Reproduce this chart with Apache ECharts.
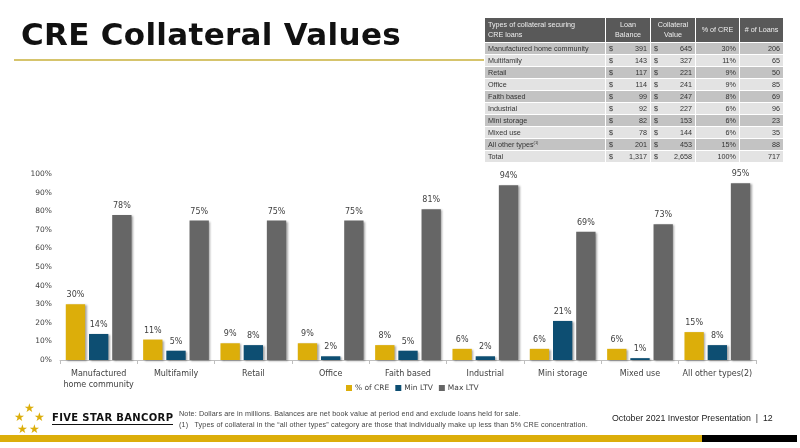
<!DOCTYPE html>
<html>
<head>
<meta charset="utf-8">
<script src="https://cdn.jsdelivr.net/npm/echarts@6/dist/echarts.min.js"></script>
<style>
	html, body { margin: 0; padding: 0; background: #fff; }
	#page { position: relative; width: 800px; height: 448px; overflow: hidden; }
	#main { position: absolute; left: 0; top: 0; width: 800px; height: 448px; }
	.title { position: absolute; left: 21px; top: 16px; font-family: "DejaVu Sans"; font-weight: bold; font-size: 31px; color: #111; letter-spacing: 0.3px; }
	.titleLine { position: absolute; left: 14px; top: 59px; width: 470px; height: 2px; background: #d6c46c; }
	#tbl { position: absolute; left: 484px; top: 17px; border-collapse: collapse; border: 1px solid #111; font-family: "Liberation Sans"; font-size: 7.2px; color: #333; table-layout: fixed; }
	#tbl td, #tbl th { border: 1px solid #fff; padding: 0 3px; height: 11px; line-height: 11px; white-space: nowrap; }
	#tbl th { background: #595959; color: #eee; font-weight: normal; height: 24px; line-height: 10px; text-align: center; }
	#tbl th.first { text-align: left; }
	#tbl tr.dark td { background: #c3c3c3; }
	#tbl tr.light td { background: #e3e3e3; }
	#tbl td.num { text-align: right; }
	#tbl td.num span { float: left; }
	#tbl sup { font-size: 4px; line-height: 0; }
	.stars { position: absolute; color: #dcae0a; font-size: 12px; line-height: 12px; }
	.brand { position: absolute; left: 52px; top: 412px; font-family: "DejaVu Sans"; font-weight: bold; font-size: 10px; letter-spacing: 0.35px; color: #111; border-bottom: 1.5px solid #111; padding-bottom: 1px; }
	.note { position: absolute; left: 179px; font-family: "Liberation Sans"; font-size: 7.2px; letter-spacing: 0.12px; color: #444; white-space: nowrap; }
	.pres { position: absolute; left: 612px; top: 413px; font-family: "Liberation Sans"; font-size: 8.8px; color: #222; white-space: nowrap; }
	.barGold { position: absolute; left: 0; top: 435px; width: 702px; height: 7px; background: #dcae0a; }
	.barBlack { position: absolute; left: 702px; top: 435px; width: 95px; height: 7px; background: #000; }
</style>
</head>
<body>
<div id="page">
	<div id="main"></div>
	<div class="title">CRE Collateral Values</div>
	<div class="titleLine"></div>
	<table id="tbl"></table>

	<div class="stars" style="left:24px;top:402px;">★</div>
	<div class="stars" style="left:14px;top:411px;">★</div>
	<div class="stars" style="left:34px;top:411px;">★</div>
	<div class="stars" style="left:17px;top:423px;">★</div>
	<div class="stars" style="left:29px;top:423px;">★</div>
	<div class="brand">FIVE STAR BANCORP</div>
	<div class="note" style="top:409px;">Note: Dollars are in millions. Balances are net book value at period end and exclude loans held for sale.</div>
	<div class="note" style="top:420px;">(1)&nbsp;&nbsp;&nbsp;Types of collateral in the “all other types” category are those that individually make up less than 5% CRE concentration.</div>
	<div class="pres">October 2021 Investor Presentation &nbsp;|&nbsp; 12</div>
	<div class="barGold"></div>
	<div class="barBlack"></div>
</div>
<script>
	// 图表数据
	var categories = ['Manufactured\nhome community', 'Multifamily', 'Retail', 'Office', 'Faith based', 'Industrial', 'Mini storage', 'Mixed use', 'All other types(2)'];
	var pctCre = [30, 11, 9, 9, 8, 6, 6, 6, 15];
	var minLtv = [14, 5, 8, 2, 5, 2, 21, 1, 8];
	var maxLtv = [78, 75, 75, 75, 81, 94, 69, 73, 95];
	var yTicks = [0, 10, 20, 30, 40, 50, 60, 70, 80, 90, 100];

	// 表格数据
	var tblTypes = ['Manufactured home community', 'Multifamily', 'Retail', 'Office', 'Faith based', 'Industrial', 'Mini storage', 'Mixed use', 'All other types<sup>(1)</sup>', 'Total'];
	var tblLoan = ['391', '143', '117', '114', '99', '92', '82', '78', '201', '1,317'];
	var tblCollateral = ['645', '327', '221', '241', '247', '227', '153', '144', '453', '2,658'];
	var tblPct = ['30%', '11%', '9%', '9%', '8%', '6%', '6%', '6%', '15%', '100%'];
	var tblCount = ['206', '65', '50', '85', '69', '96', '23', '35', '88', '717'];

	var html = '<colgroup><col style="width:121px"><col style="width:45px"><col style="width:45px"><col style="width:44px"><col style="width:44px"></colgroup>';
	html += '<tr><th class="first">Types of collateral securing<br>CRE loans</th><th>Loan<br>Balance</th><th>Collateral<br>Value</th><th>% of CRE</th><th># of Loans</th></tr>';
	for(var i = 0; i < tblTypes.length; i++) {
		html += '<tr class="' + (i % 2 == 0 ? 'dark' : 'light') + '">' +
			'<td>' + tblTypes[i] + '</td>' +
			'<td class="num"><span>$</span>' + tblLoan[i] + '</td>' +
			'<td class="num"><span>$</span>' + tblCollateral[i] + '</td>' +
			'<td class="num">' + tblPct[i] + '</td>' +
			'<td class="num">' + tblCount[i] + '</td></tr>';
	}
	document.getElementById('tbl').innerHTML = html;

	var font = 'DejaVu Sans';
	var labelStyle = {
		show: true,
		position: 'top',
		distance: 5,
		formatter: '{c}%',
		fontFamily: font,
		fontSize: 8,
		color: '#404040'
	};
	var shadow = {
		shadowColor: 'rgba(0,0,0,0.35)',
		shadowBlur: 2,
		shadowOffsetX: 1.5,
		shadowOffsetY: 1
	};

	var myChart = echarts.init(document.getElementById('main'));
	var option = {
		animation: false,
		grid: {
			left: 60,
			right: 44,
			top: 174,
			bottom: 88
		},
		legend: {
			data: ['% of CRE', 'Min LTV', 'Max LTV'],
			left: 341,
			top: 379,
			icon: 'rect',
			itemWidth: 6,
			itemHeight: 6,
			itemGap: 6,
			textStyle: {
				fontFamily: font,
				fontSize: 7.5,
				color: '#404040',
				padding: [0, 0, 0, -2]
			}
		},
		xAxis: {
			type: 'category',
			data: categories,
			axisLine: { lineStyle: { color: '#bfbfbf' } },
			axisTick: { show: true, length: 4, lineStyle: { color: '#bfbfbf' } },
			axisLabel: {
				interval: 0,
				margin: 8,
				fontFamily: font,
				fontSize: 8,
				color: '#404040',
				lineHeight: 11
			}
		},
		yAxis: {
			type: 'value',
			min: yTicks[0],
			max: yTicks[yTicks.length - 1],
			interval: 10,
			splitLine: { show: false },
			axisLine: { show: false },
			axisTick: { show: false },
			axisLabel: {
				formatter: '{value}%',
				margin: 8,
				fontFamily: font,
				fontSize: 7.5,
				color: '#404040'
			}
		},
		series: [{
			name: '% of CRE',
			type: 'bar',
			data: pctCre,
			barGap: '20%',
			barCategoryGap: '15%',
			itemStyle: Object.assign({ color: '#dcae0a' }, shadow),
			label: labelStyle
		}, {
			name: 'Min LTV',
			type: 'bar',
			data: minLtv,
			itemStyle: Object.assign({ color: '#0d4e72' }, shadow),
			label: labelStyle
		}, {
			name: 'Max LTV',
			type: 'bar',
			data: maxLtv,
			itemStyle: Object.assign({ color: '#666666' }, shadow),
			label: labelStyle
		}]
	};
	myChart.setOption(option);
</script>
</body>
</html>
